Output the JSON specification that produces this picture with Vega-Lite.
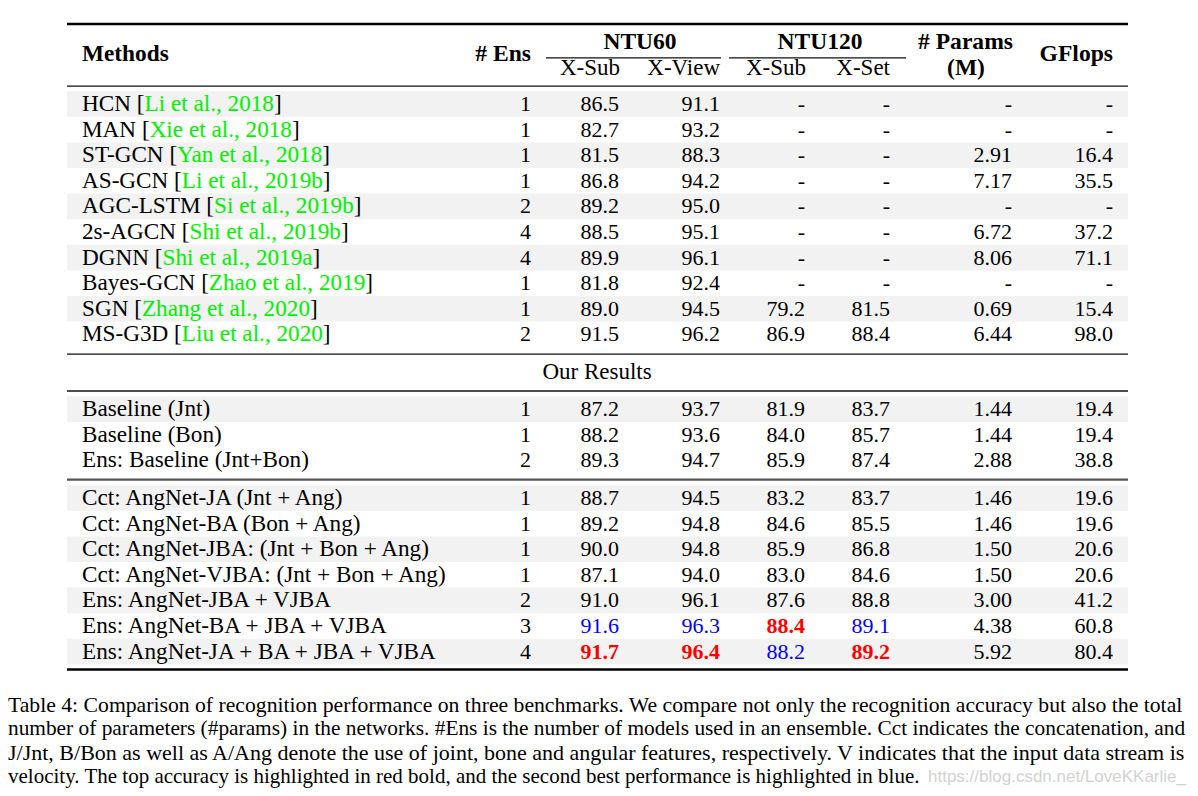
{
  "$schema": "https://vega.github.io/schema/vega-lite/v6.json",
  "width": 1198,
  "height": 796,
  "padding": 0,
  "autosize": {"type": "fit", "contains": "padding"},
  "background": "white",
  "config": {"view": {"stroke": null}, "text": {"font": "Liberation Serif", "fontSize": 22, "baseline": "middle"}},
  "datasets": {
    "rows": [
      {"r": 0, "name": "HCN", "cite": "Li et al., 2018", "shade": 1, "ens": "1", "s60": "86.5", "v60": "91.1", "s120": "-", "t120": "-", "params": "-", "gflops": "-"},
      {"r": 1, "name": "MAN", "cite": "Xie et al., 2018", "shade": 0, "ens": "1", "s60": "82.7", "v60": "93.2", "s120": "-", "t120": "-", "params": "-", "gflops": "-"},
      {"r": 2, "name": "ST-GCN", "cite": "Yan et al., 2018", "shade": 1, "ens": "1", "s60": "81.5", "v60": "88.3", "s120": "-", "t120": "-", "params": "2.91", "gflops": "16.4"},
      {"r": 3, "name": "AS-GCN", "cite": "Li et al., 2019b", "shade": 0, "ens": "1", "s60": "86.8", "v60": "94.2", "s120": "-", "t120": "-", "params": "7.17", "gflops": "35.5"},
      {"r": 4, "name": "AGC-LSTM", "cite": "Si et al., 2019b", "shade": 1, "ens": "2", "s60": "89.2", "v60": "95.0", "s120": "-", "t120": "-", "params": "-", "gflops": "-"},
      {"r": 5, "name": "2s-AGCN", "cite": "Shi et al., 2019b", "shade": 0, "ens": "4", "s60": "88.5", "v60": "95.1", "s120": "-", "t120": "-", "params": "6.72", "gflops": "37.2"},
      {"r": 6, "name": "DGNN", "cite": "Shi et al., 2019a", "shade": 1, "ens": "4", "s60": "89.9", "v60": "96.1", "s120": "-", "t120": "-", "params": "8.06", "gflops": "71.1"},
      {"r": 7, "name": "Bayes-GCN", "cite": "Zhao et al., 2019", "shade": 0, "ens": "1", "s60": "81.8", "v60": "92.4", "s120": "-", "t120": "-", "params": "-", "gflops": "-"},
      {"r": 8, "name": "SGN", "cite": "Zhang et al., 2020", "shade": 1, "ens": "1", "s60": "89.0", "v60": "94.5", "s120": "79.2", "t120": "81.5", "params": "0.69", "gflops": "15.4"},
      {"r": 9, "name": "MS-G3D", "cite": "Liu et al., 2020", "shade": 0, "ens": "2", "s60": "91.5", "v60": "96.2", "s120": "86.9", "t120": "88.4", "params": "6.44", "gflops": "98.0"},
      {"r": 11.92, "name": "Baseline (Jnt)", "shade": 1, "ens": "1", "s60": "87.2", "v60": "93.7", "s120": "81.9", "t120": "83.7", "params": "1.44", "gflops": "19.4"},
      {"r": 12.92, "name": "Baseline (Bon)", "shade": 0, "ens": "1", "s60": "88.2", "v60": "93.6", "s120": "84.0", "t120": "85.7", "params": "1.44", "gflops": "19.4"},
      {"r": 13.92, "name": "Ens: Baseline (Jnt+Bon)", "shade": 0, "ens": "2", "s60": "89.3", "v60": "94.7", "s120": "85.9", "t120": "87.4", "params": "2.88", "gflops": "38.8"},
      {"r": 15.39, "name": "Cct: AngNet-JA (Jnt + Ang)", "shade": 1, "ens": "1", "s60": "88.7", "v60": "94.5", "s120": "83.2", "t120": "83.7", "params": "1.46", "gflops": "19.6"},
      {"r": 16.39, "name": "Cct: AngNet-BA (Bon + Ang)", "shade": 0, "ens": "1", "s60": "89.2", "v60": "94.8", "s120": "84.6", "t120": "85.5", "params": "1.46", "gflops": "19.6"},
      {"r": 17.39, "name": "Cct: AngNet-JBA: (Jnt + Bon + Ang)", "shade": 1, "ens": "1", "s60": "90.0", "v60": "94.8", "s120": "85.9", "t120": "86.8", "params": "1.50", "gflops": "20.6"},
      {"r": 18.39, "name": "Cct: AngNet-VJBA: (Jnt + Bon + Ang)", "shade": 0, "ens": "1", "s60": "87.1", "v60": "94.0", "s120": "83.0", "t120": "84.6", "params": "1.50", "gflops": "20.6"},
      {"r": 19.39, "name": "Ens: AngNet-JBA + VJBA", "shade": 1, "ens": "2", "s60": "91.0", "v60": "96.1", "s120": "87.6", "t120": "88.8", "params": "3.00", "gflops": "41.2"},
      {"r": 20.39, "name": "Ens: AngNet-BA + JBA + VJBA", "shade": 0, "ens": "3", "s60": "91.6", "v60": "96.3", "s120": "88.4", "t120": "89.1", "params": "4.38", "gflops": "60.8", "best": "s120", "second": "s60 v60 t120"},
      {"r": 21.39, "name": "Ens: AngNet-JA + BA + JBA + VJBA", "shade": 1, "ens": "4", "s60": "91.7", "v60": "96.4", "s120": "88.2", "t120": "89.2", "params": "5.92", "gflops": "80.4", "best": "s60 v60 t120", "second": "s120"}
    ],
    "cols": [
      {"key": "ens", "x": 531},
      {"key": "s60", "x": 619},
      {"key": "v60", "x": 720},
      {"key": "s120", "x": 805},
      {"key": "t120", "x": 890},
      {"key": "params", "x": 1012},
      {"key": "gflops", "x": 1113}
    ],
    "rules": [
      {"kind": "heavy", "r": -3.125, "x": 67, "x2": 1128},
      {"kind": "mid", "r": -0.7, "x": 67, "x2": 1128},
      {"kind": "cmid", "r": -1.8, "x": 546, "x2": 721},
      {"kind": "cmid", "r": -1.8, "x": 729, "x2": 906},
      {"kind": "mid", "r": 9.77, "x": 67, "x2": 1128},
      {"kind": "mid", "r": 11.21, "x": 67, "x2": 1128},
      {"kind": "sep", "r": 14.67, "x": 67, "x2": 1128},
      {"kind": "heavy", "r": 22.09, "x": 67, "x2": 1128}
    ],
    "headers": [
      {"label": "Methods", "kind": "boldleft", "x": 82, "r": -1.95},
      {"label": "# Ens", "kind": "boldright", "x": 531, "r": -1.95},
      {"label": "NTU60", "kind": "boldcenter", "x": 640, "r": -2.42},
      {"label": "NTU120", "kind": "boldcenter", "x": 820, "r": -2.42},
      {"label": "# Params", "kind": "boldright", "x": 1013, "r": -2.42},
      {"label": "(M)", "kind": "boldcenter", "x": 966, "r": -1.41},
      {"label": "GFlops", "kind": "boldright", "x": 1113, "r": -1.95},
      {"label": "X-Sub", "kind": "right", "x": 620, "r": -1.41},
      {"label": "X-View", "kind": "right", "x": 720, "r": -1.41},
      {"label": "X-Sub", "kind": "right", "x": 806, "r": -1.41},
      {"label": "X-Set", "kind": "right", "x": 890, "r": -1.41},
      {"label": "Our Results", "kind": "center", "x": 597, "r": 10.47}
    ],
    "caption": [
      {"i": 1, "line": "Table 4: Comparison of recognition performance on three benchmarks. We compare not only the recognition accuracy but also the total", "x": 8, "r": 23.48},
      {"i": 2, "line": "number of parameters (#params) in the networks. #Ens is the number of models used in an ensemble. Cct indicates the concatenation, and", "x": 8, "r": 24.41},
      {"i": 3, "line": "J/Jnt, B/Bon as well as A/Ang denote the use of joint, bone and angular features, respectively. V indicates that the input data stream is", "x": 8, "r": 25.35},
      {"i": 4, "line": "velocity. The top accuracy is highlighted in red bold, and the second best performance is highlighted in blue.", "x": 8, "r": 26.29}
    ],
    "mark": [
      {"line": "https://blog.csdn.net/LoveKKarlie_", "x": 928, "r": 26.29}
    ]
  },
  "layer": [
    {
      "data": {"name": "rows"},
      "transform": [{"filter": "datum.shade == 1"}],
      "mark": {"type": "rect", "color": "#f2f2f2", "yOffset": -12.8, "y2Offset": 12.8},
      "encoding": {
        "x": {"datum": 67, "type": "quantitative", "scale": {"domain": [0, 1198], "nice": false, "zero": false}, "axis": null},
        "x2": {"datum": 1128},
        "y": {"field": "r", "type": "quantitative", "scale": {"domain": [-4.0625, 27.03125], "nice": false, "zero": false, "reverse": true}, "axis": null},
        "y2": {"field": "r"}
      }
    },
    {
      "data": {"name": "rules"},
      "transform": [{"filter": "datum.kind == 'heavy'"}],
      "mark": {"type": "rule", "color": "#000000", "strokeWidth": 2.4},
      "encoding": {
        "x": {"field": "x", "type": "quantitative", "scale": {"domain": [0, 1198], "nice": false, "zero": false}, "axis": null},
        "x2": {"field": "x2"},
        "y": {"field": "r", "type": "quantitative", "scale": {"domain": [-4.0625, 27.03125], "nice": false, "zero": false, "reverse": true}, "axis": null}
      }
    },
    {
      "data": {"name": "rules"},
      "transform": [{"filter": "datum.kind == 'mid' || datum.kind == 'cmid'"}],
      "mark": {"type": "rule", "color": "#111111", "strokeWidth": 1.4},
      "encoding": {
        "x": {"field": "x", "type": "quantitative", "scale": {"domain": [0, 1198], "nice": false, "zero": false}, "axis": null},
        "x2": {"field": "x2"},
        "y": {"field": "r", "type": "quantitative", "scale": {"domain": [-4.0625, 27.03125], "nice": false, "zero": false, "reverse": true}, "axis": null}
      }
    },
    {
      "data": {"name": "rules"},
      "transform": [{"filter": "datum.kind == 'sep'"}],
      "mark": {"type": "rule", "color": "#555555", "strokeWidth": 2.2},
      "encoding": {
        "x": {"field": "x", "type": "quantitative", "scale": {"domain": [0, 1198], "nice": false, "zero": false}, "axis": null},
        "x2": {"field": "x2"},
        "y": {"field": "r", "type": "quantitative", "scale": {"domain": [-4.0625, 27.03125], "nice": false, "zero": false, "reverse": true}, "axis": null}
      }
    },
    {
      "data": {"name": "rows"},
      "transform": [{"calculate": "datum.cite ? datum.name + ' [' + datum.cite + ']' : datum.name", "as": "t"}],
      "mark": {"type": "text", "align": "left", "color": "#000000", "fontSize": 23.2},
      "encoding": {
        "x": {"datum": 82, "type": "quantitative", "scale": {"domain": [0, 1198], "nice": false, "zero": false}, "axis": null},
        "y": {"field": "r", "type": "quantitative", "scale": {"domain": [-4.0625, 27.03125], "nice": false, "zero": false, "reverse": true}, "axis": null},
        "text": {"field": "t"}
      }
    },
    {
      "data": {"name": "rows"},
      "transform": [{"filter": "datum.cite"}, {"calculate": "datum.name + ' [' + datum.cite", "as": "t"}],
      "mark": {"type": "text", "align": "left", "strokeWidth": 1.3, "fontSize": 23.2},
      "encoding": {
        "x": {"datum": 82, "type": "quantitative", "scale": {"domain": [0, 1198], "nice": false, "zero": false}, "axis": null},
        "y": {"field": "r", "type": "quantitative", "scale": {"domain": [-4.0625, 27.03125], "nice": false, "zero": false, "reverse": true}, "axis": null},
        "text": {"field": "t"},
        "fill": {"condition": {"test": "datum.shade == 1", "value": "#f2f2f2"}, "value": "#ffffff"},
        "stroke": {"condition": {"test": "datum.shade == 1", "value": "#f2f2f2"}, "value": "#ffffff"}
      }
    },
    {
      "data": {"name": "rows"},
      "transform": [{"filter": "datum.cite"}, {"calculate": "datum.name + ' [' + datum.cite", "as": "t"}],
      "mark": {"type": "text", "align": "left", "color": "#00f000", "fontSize": 23.2},
      "encoding": {
        "x": {"datum": 82, "type": "quantitative", "scale": {"domain": [0, 1198], "nice": false, "zero": false}, "axis": null},
        "y": {"field": "r", "type": "quantitative", "scale": {"domain": [-4.0625, 27.03125], "nice": false, "zero": false, "reverse": true}, "axis": null},
        "text": {"field": "t"}
      }
    },
    {
      "data": {"name": "rows"},
      "transform": [{"filter": "datum.cite"}, {"calculate": "datum.name + ' ['", "as": "t"}],
      "mark": {"type": "text", "align": "left", "strokeWidth": 1.3, "fontSize": 23.2},
      "encoding": {
        "x": {"datum": 82, "type": "quantitative", "scale": {"domain": [0, 1198], "nice": false, "zero": false}, "axis": null},
        "y": {"field": "r", "type": "quantitative", "scale": {"domain": [-4.0625, 27.03125], "nice": false, "zero": false, "reverse": true}, "axis": null},
        "text": {"field": "t"},
        "fill": {"condition": {"test": "datum.shade == 1", "value": "#f2f2f2"}, "value": "#ffffff"},
        "stroke": {"condition": {"test": "datum.shade == 1", "value": "#f2f2f2"}, "value": "#ffffff"}
      }
    },
    {
      "data": {"name": "rows"},
      "transform": [{"filter": "datum.cite"}, {"calculate": "datum.name + ' ['", "as": "t"}],
      "mark": {"type": "text", "align": "left", "color": "#000000", "fontSize": 23.2},
      "encoding": {
        "x": {"datum": 82, "type": "quantitative", "scale": {"domain": [0, 1198], "nice": false, "zero": false}, "axis": null},
        "y": {"field": "r", "type": "quantitative", "scale": {"domain": [-4.0625, 27.03125], "nice": false, "zero": false, "reverse": true}, "axis": null},
        "text": {"field": "t"}
      }
    },
    {
      "data": {"name": "rows"},
      "transform": [
        {"fold": ["ens", "s60", "v60", "s120", "t120", "params", "gflops"], "as": ["key", "val"]},
        {"lookup": "key", "from": {"data": {"name": "cols"}, "key": "key", "fields": ["x"]}},
        {"filter": "indexof(datum.best || '', datum.key) < 0"}
      ],
      "mark": {"type": "text", "align": "right"},
      "encoding": {
        "x": {"field": "x", "type": "quantitative", "scale": {"domain": [0, 1198], "nice": false, "zero": false}, "axis": null},
        "y": {"field": "r", "type": "quantitative", "scale": {"domain": [-4.0625, 27.03125], "nice": false, "zero": false, "reverse": true}, "axis": null},
        "text": {"field": "val"},
        "color": {"condition": {"test": "indexof(datum.second || '', datum.key) >= 0", "value": "#0000ff"}, "value": "#000000"}
      }
    },
    {
      "data": {"name": "rows"},
      "transform": [
        {"fold": ["ens", "s60", "v60", "s120", "t120", "params", "gflops"], "as": ["key", "val"]},
        {"lookup": "key", "from": {"data": {"name": "cols"}, "key": "key", "fields": ["x"]}},
        {"filter": "indexof(datum.best || '', datum.key) >= 0"}
      ],
      "mark": {"type": "text", "align": "right", "fontWeight": "bold", "color": "#ff0000"},
      "encoding": {
        "x": {"field": "x", "type": "quantitative", "scale": {"domain": [0, 1198], "nice": false, "zero": false}, "axis": null},
        "y": {"field": "r", "type": "quantitative", "scale": {"domain": [-4.0625, 27.03125], "nice": false, "zero": false, "reverse": true}, "axis": null},
        "text": {"field": "val"}
      }
    },
    {
      "data": {"name": "headers"},
      "transform": [{"filter": "datum.kind == 'boldleft'"}],
      "mark": {"type": "text", "align": "left", "fontWeight": "bold", "color": "#000000", "fontSize": 23.3},
      "encoding": {
        "x": {"field": "x", "type": "quantitative", "scale": {"domain": [0, 1198], "nice": false, "zero": false}, "axis": null},
        "y": {"field": "r", "type": "quantitative", "scale": {"domain": [-4.0625, 27.03125], "nice": false, "zero": false, "reverse": true}, "axis": null},
        "text": {"field": "label"}
      }
    },
    {
      "data": {"name": "headers"},
      "transform": [{"filter": "datum.kind == 'boldright'"}],
      "mark": {"type": "text", "align": "right", "fontWeight": "bold", "color": "#000000", "fontSize": 23.6},
      "encoding": {
        "x": {"field": "x", "type": "quantitative", "scale": {"domain": [0, 1198], "nice": false, "zero": false}, "axis": null},
        "y": {"field": "r", "type": "quantitative", "scale": {"domain": [-4.0625, 27.03125], "nice": false, "zero": false, "reverse": true}, "axis": null},
        "text": {"field": "label"}
      }
    },
    {
      "data": {"name": "headers"},
      "transform": [{"filter": "datum.kind == 'boldcenter'"}],
      "mark": {"type": "text", "align": "center", "fontWeight": "bold", "color": "#000000", "fontSize": 23.5},
      "encoding": {
        "x": {"field": "x", "type": "quantitative", "scale": {"domain": [0, 1198], "nice": false, "zero": false}, "axis": null},
        "y": {"field": "r", "type": "quantitative", "scale": {"domain": [-4.0625, 27.03125], "nice": false, "zero": false, "reverse": true}, "axis": null},
        "text": {"field": "label"}
      }
    },
    {
      "data": {"name": "headers"},
      "transform": [{"filter": "datum.kind == 'right'"}],
      "mark": {"type": "text", "align": "right", "color": "#000000", "fontSize": 23},
      "encoding": {
        "x": {"field": "x", "type": "quantitative", "scale": {"domain": [0, 1198], "nice": false, "zero": false}, "axis": null},
        "y": {"field": "r", "type": "quantitative", "scale": {"domain": [-4.0625, 27.03125], "nice": false, "zero": false, "reverse": true}, "axis": null},
        "text": {"field": "label"}
      }
    },
    {
      "data": {"name": "headers"},
      "transform": [{"filter": "datum.kind == 'center'"}],
      "mark": {"type": "text", "align": "center", "color": "#000000", "fontSize": 23},
      "encoding": {
        "x": {"field": "x", "type": "quantitative", "scale": {"domain": [0, 1198], "nice": false, "zero": false}, "axis": null},
        "y": {"field": "r", "type": "quantitative", "scale": {"domain": [-4.0625, 27.03125], "nice": false, "zero": false, "reverse": true}, "axis": null},
        "text": {"field": "label"}
      }
    },
    {
      "data": {"name": "caption"},
      "transform": [{"filter": "datum.i == 1"}],
      "mark": {"type": "text", "align": "left", "fontSize": 21.7, "color": "#000000"},
      "encoding": {
        "x": {"field": "x", "type": "quantitative", "scale": {"domain": [0, 1198], "nice": false, "zero": false}, "axis": null},
        "y": {"field": "r", "type": "quantitative", "scale": {"domain": [-4.0625, 27.03125], "nice": false, "zero": false, "reverse": true}, "axis": null},
        "text": {"field": "line"}
      }
    },
    {
      "data": {"name": "caption"},
      "transform": [{"filter": "datum.i == 2"}],
      "mark": {"type": "text", "align": "left", "fontSize": 21.35, "color": "#000000"},
      "encoding": {
        "x": {"field": "x", "type": "quantitative", "scale": {"domain": [0, 1198], "nice": false, "zero": false}, "axis": null},
        "y": {"field": "r", "type": "quantitative", "scale": {"domain": [-4.0625, 27.03125], "nice": false, "zero": false, "reverse": true}, "axis": null},
        "text": {"field": "line"}
      }
    },
    {
      "data": {"name": "caption"},
      "transform": [{"filter": "datum.i == 3"}],
      "mark": {"type": "text", "align": "left", "fontSize": 22, "color": "#000000"},
      "encoding": {
        "x": {"field": "x", "type": "quantitative", "scale": {"domain": [0, 1198], "nice": false, "zero": false}, "axis": null},
        "y": {"field": "r", "type": "quantitative", "scale": {"domain": [-4.0625, 27.03125], "nice": false, "zero": false, "reverse": true}, "axis": null},
        "text": {"field": "line"}
      }
    },
    {
      "data": {"name": "caption"},
      "transform": [{"filter": "datum.i == 4"}],
      "mark": {"type": "text", "align": "left", "fontSize": 21, "color": "#000000"},
      "encoding": {
        "x": {"field": "x", "type": "quantitative", "scale": {"domain": [0, 1198], "nice": false, "zero": false}, "axis": null},
        "y": {"field": "r", "type": "quantitative", "scale": {"domain": [-4.0625, 27.03125], "nice": false, "zero": false, "reverse": true}, "axis": null},
        "text": {"field": "line"}
      }
    },
    {
      "data": {"name": "mark"},
      "mark": {"type": "text", "align": "left", "font": "Liberation Sans", "fontSize": 17, "color": "#d2d2d2"},
      "encoding": {
        "x": {"field": "x", "type": "quantitative", "scale": {"domain": [0, 1198], "nice": false, "zero": false}, "axis": null},
        "y": {"field": "r", "type": "quantitative", "scale": {"domain": [-4.0625, 27.03125], "nice": false, "zero": false, "reverse": true}, "axis": null},
        "text": {"field": "line"}
      }
    }
  ]
}
